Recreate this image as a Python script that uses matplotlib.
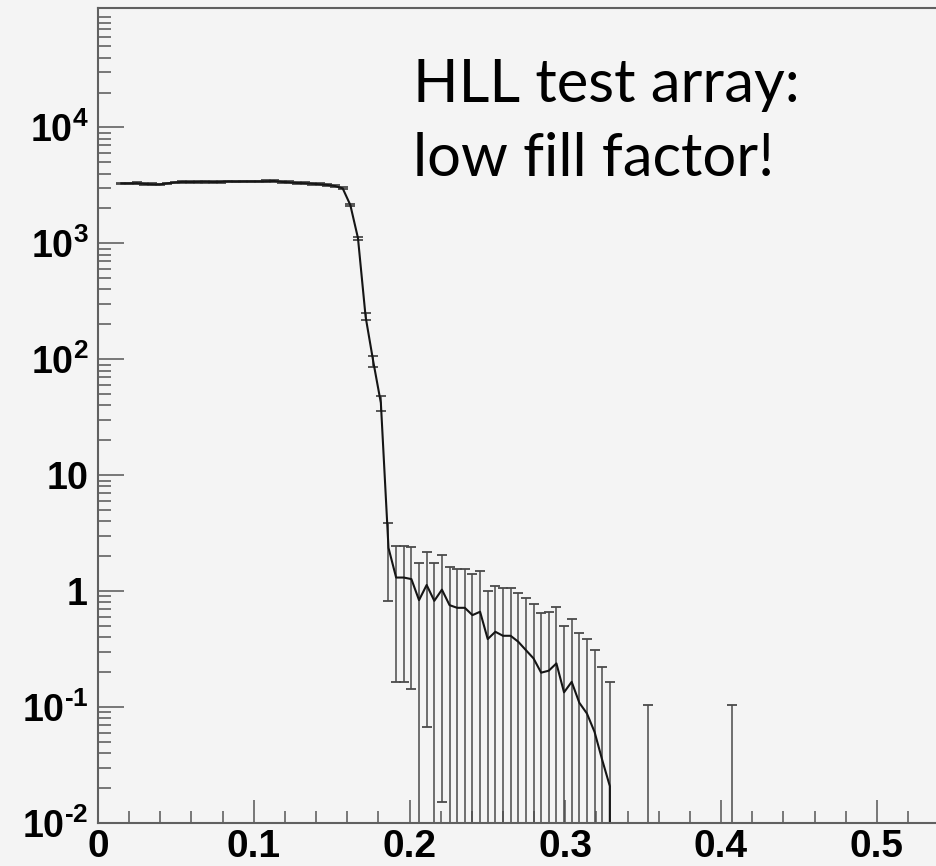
import numpy as np
import matplotlib
matplotlib.use('Agg')
import matplotlib.pyplot as plt
from matplotlib.ticker import FixedLocator, FixedFormatter, LogLocator, MultipleLocator, NullFormatter

plt.rcParams['mathtext.fontset'] = 'custom'
plt.rcParams['mathtext.rm'] = 'Liberation Sans:bold'
plt.rcParams['mathtext.bf'] = 'Liberation Sans:bold'
plt.rcParams['mathtext.it'] = 'Liberation Sans:bold'

# histogram binning (regular bins)
bin_start = 0.015
bin_width = 0.0049

# bin contents
plateau = [3290, 3290, 3300, 3260, 3230, 3220, 3290, 3350, 3390, 3380,
           3390, 3400, 3380, 3390, 3420, 3410, 3420, 3420, 3420, 3430,
           3450, 3390, 3360, 3320, 3300, 3270, 3230, 3190, 3120]
edge = [2980, 2140, 1110, 233, 96, 42]
tail = [2.36, 1.31, 1.31, 1.27, 0.836, 1.13, 0.825, 1.03, 0.757, 0.718,
        0.718, 0.621, 0.664, 0.386, 0.446, 0.412, 0.412, 0.366, 0.31, 0.263,
        0.198, 0.206, 0.238, 0.134, 0.165, 0.109, 0.088, 0.061, 0.035, 0.0208]
far = [0, 0, 0, 0, 0.0092, 0, 0, 0, 0, 0, 0, 0, 0, 0, 0, 0.0092]

counts = np.array(plateau + edge + tail + far, dtype=float)
x = bin_start + bin_width * np.arange(len(counts))
errors = np.sqrt(counts)  # Poisson errors

y_ticks = [1e-2, 1e-1, 1, 10, 1e2, 1e3, 1e4]
y_labels = [r'$10^{\text{-}2}$', r'$10^{\text{-}1}$', r'$1$', r'$10$',
            r'$10^{2}$', r'$10^{3}$', r'$10^{4}$']
x_ticks = [0, 0.1, 0.2, 0.3, 0.4, 0.5]
x_labels = ['0', '0.1', '0.2', '0.3', '0.4', '0.5']

bg = '#f4f4f4'
fig = plt.figure(figsize=(9.36, 8.66), dpi=100, facecolor=bg)
ax = fig.add_axes([98 / 936, 43 / 866, 1 - 98 / 936, 815 / 866])
ax.set_facecolor(bg)
ax.set_yscale('log')
ax.set_xlim(0, 0.538)
ax.set_ylim(0.01, 10 ** 5.03)

ax.errorbar(x, counts, yerr=errors, fmt='none', ecolor='#4a4a4a',
            elinewidth=1.1, capsize=3.5, capthick=1.3)
ax.plot(x, counts, color='#151515', lw=1.5)

ax.yaxis.set_major_locator(FixedLocator(y_ticks))
ax.yaxis.set_major_formatter(FixedFormatter(y_labels))
ax.yaxis.set_minor_locator(LogLocator(base=10, subs=range(2, 10), numticks=20))
ax.yaxis.set_minor_formatter(NullFormatter())
ax.xaxis.set_major_locator(FixedLocator(x_ticks))
ax.xaxis.set_major_formatter(FixedFormatter(x_labels))
ax.xaxis.set_minor_locator(MultipleLocator(0.02))

ax.tick_params(axis='both', which='both', direction='in', color='#555555', width=1.1,
               top=False, right=False)
ax.tick_params(axis='y', which='major', length=18.7, pad=7, labelsize=27)
ax.tick_params(axis='y', which='minor', length=9.4)
ax.tick_params(axis='x', which='major', length=16.6, pad=4, labelsize=28)
ax.tick_params(axis='x', which='minor', length=8.4)
for lab in ax.get_xticklabels():
    lab.set_fontfamily('Liberation Sans')
    lab.set_fontweight('bold')

for side in ['left', 'bottom', 'top']:
    ax.spines[side].set_color('#606060')
    ax.spines[side].set_linewidth(1.5)
ax.spines['right'].set_visible(False)

fig.text(413 / 936, 1 - 102 / 866, 'HLL test array:', fontsize=43, family='Lato',
         va='baseline', ha='left', color='black')
fig.text(413 / 936, 1 - 176 / 866, 'low fill factor!', fontsize=43, family='Lato',
         va='baseline', ha='left', color='black')

fig.savefig('out.png', dpi=100, facecolor=bg)
